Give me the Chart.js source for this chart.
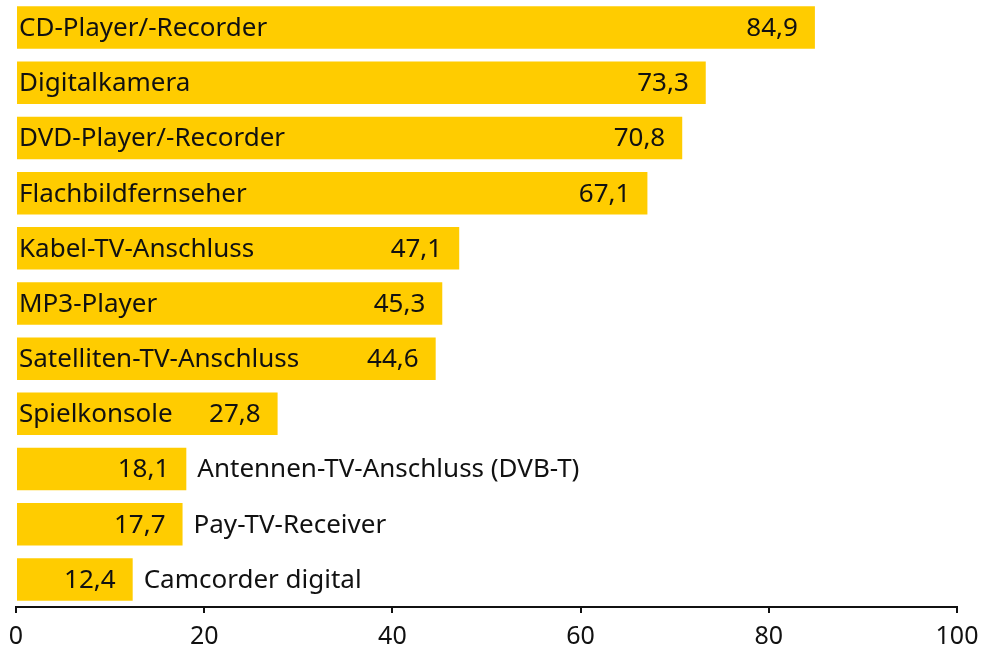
<!DOCTYPE html>
<html><head><meta charset="utf-8">
<script src="https://cdn.jsdelivr.net/npm/chart.js@4"></script>
<style>html,body{margin:0;padding:0;background:#fff}#wrap{width:983px;height:655px}</style>
</head><body><div id="wrap"><canvas id="c" width="983" height="655"></canvas></div>
<script>
const categories = ["CD-Player/-Recorder","Digitalkamera","DVD-Player/-Recorder","Flachbildfernseher","Kabel-TV-Anschluss","MP3-Player","Satelliten-TV-Anschluss","Spielkonsole","Antennen-TV-Anschluss (DVB-T)","Pay-TV-Receiver","Camcorder digital"];
const values = [84.9,73.3,70.8,67.1,47.1,45.3,44.6,27.8,18.1,17.7,12.4];
const xTicks = [0,20,40,60,80,100];
const FONT = "'Noto Sans', sans-serif";
const fmt = v => v.toFixed(1).replace('.', ',');

const labelPlugin = {
  id: 'labels',
  afterDatasetsDraw(chart) {
    const ctx = chart.ctx;
    const meta = chart.getDatasetMeta(0);
    ctx.save();
    ctx.font = "26px " + FONT;
    ctx.fillStyle = '#111';
    ctx.textBaseline = 'middle';
    meta.data.forEach((bar, i) => {
      const y = bar.y + 1;
      const left = bar.base;
      const right = bar.x;
      const val = fmt(values[i]);
      ctx.textAlign = 'right';
      ctx.fillText(val, right - 17, y);
      const nameW = ctx.measureText(categories[i]).width;
      const valW = ctx.measureText(val).width;
      ctx.textAlign = 'left';
      if (left + 2 + nameW + valW + 22 < right) {
        ctx.fillText(categories[i], left + 2, y);
      } else {
        ctx.fillText(categories[i], right + 11, y);
      }
    });
    ctx.restore();
  }
};

new Chart(document.getElementById('c'), {
  type: 'bar',
  data: { labels: categories, datasets: [{ data: values, backgroundColor: '#FFCC00', borderWidth: 0, categoryPercentage: 0.77, barPercentage: 1 }] },
  options: {
    indexAxis: 'y', responsive: false, animation: false,
    layout: { padding: { left: 16, right: 26, top: 0, bottom: -6 } },
    plugins: { legend: { display: false }, tooltip: { enabled: false } },
    scales: {
      y: { display: false },
      x: {
        min: 0, max: 100,
        afterBuildTicks: s => { s.ticks = xTicks.map(v => ({ value: v })); },
        afterFit: s => { s.paddingLeft = 0; s.paddingRight = 0; },
        grid: { drawOnChartArea: false, drawTicks: true, tickLength: 6, color: '#111', lineWidth: 2 },
        border: { color: '#111', width: 2 },
        ticks: { color: '#111', font: { size: 25, family: FONT }, padding: 9, maxRotation: 0 }
      }
    }
  },
  plugins: [labelPlugin]
});
</script></body></html>
